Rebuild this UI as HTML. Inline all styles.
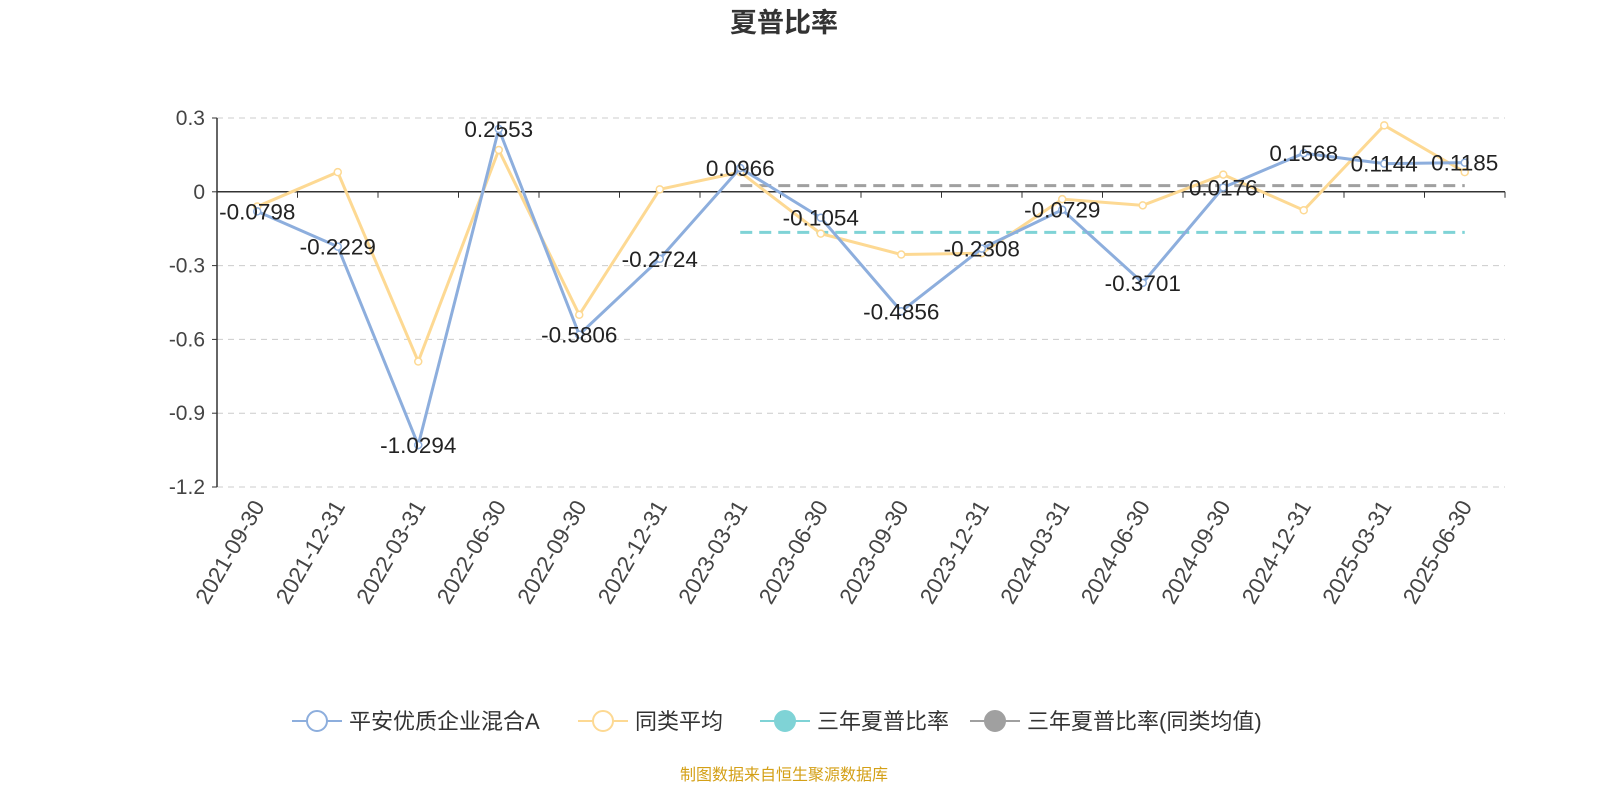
<!DOCTYPE html>
<html><head><meta charset="utf-8"><style>
body{margin:0;background:#fff;width:1600px;height:800px;overflow:hidden;font-family:"Liberation Sans","Noto Sans CJK SC",sans-serif}
</style></head><body>
<svg id="c" width="1600" height="800" font-family="Liberation Sans, Noto Sans CJK SC, sans-serif"></svg>
<script>
const categories=["2021-09-30","2021-12-31","2022-03-31","2022-06-30","2022-09-30","2022-12-31","2023-03-31","2023-06-30","2023-09-30","2023-12-31","2024-03-31","2024-06-30","2024-09-30","2024-12-31","2025-03-31","2025-06-30"];
const fundValues=[-0.0798,-0.2229,-1.0294,0.2553,-0.5806,-0.2724,0.0966,-0.1054,-0.4856,-0.2308,-0.0729,-0.3701,0.0176,0.1568,0.1144,0.1185];
const avgValues=[-0.06,0.08,-0.69,0.17,-0.50,0.01,0.08,-0.17,-0.255,-0.25,-0.03,-0.055,0.07,-0.075,0.27,0.08];
const threeYear=-0.165;
const threeYearAvg=0.025;
const threeYearStart=6;
const yTicks=[0.3,0,-0.3,-0.6,-0.9,-1.2];
const legendNames=["平安优质企业混合A","同类平均","三年夏普比率","三年夏普比率(同类均值)"];
const NS="http://www.w3.org/2000/svg";const svg=document.getElementById('c');
const L=217,R=1505,T=118,B=487;
const x=i=>L+(R-L)/categories.length*(i+0.5);
const y=v=>T+(0.3-v)/1.5*(B-T);
function el(t,a,txt){const e=document.createElementNS(NS,t);for(const k in a)e.setAttribute(k,a[k]);if(txt!=null)e.textContent=txt;svg.appendChild(e);return e;}
let e=el('text',{x:784,y:32,'text-anchor':'middle','font-size':27,'font-weight':'bold',fill:'#333'},'夏普比率');

yTicks.forEach(v=>{
 if(v!==0){const g=el('line',{x1:L,x2:R,y1:y(v),y2:y(v),stroke:'#ccc','stroke-dasharray':'6,5'});
 }
 const t=el('text',{x:L-12,y:y(v)+7,'text-anchor':'end','font-size':21,fill:'#444'},String(v));
 
 const k=el('line',{x1:L-5,x2:L,y1:y(v),y2:y(v),stroke:'#333'});
 
});
e=el('line',{x1:L,x2:L,y1:T,y2:B,stroke:'#333','stroke-width':1.5});
e=el('line',{x1:L,x2:R,y1:y(0),y2:y(0),stroke:'#333','stroke-width':1.5});
for(let i=0;i<=categories.length;i++){const k=el('line',{x1:L+(R-L)/categories.length*i,x2:L+(R-L)/categories.length*i,y1:y(0),y2:y(0)+6,stroke:'#333'});
 }
categories.forEach((c,i)=>{const t=el('text',{x:x(i)+8,y:506,'text-anchor':'end','font-size':22.5,fill:'#444',transform:`rotate(-60 ${x(i)+8} 506)`},c);
 });
e=el('line',{x1:x(threeYearStart),x2:x(categories.length-1),y1:y(threeYear),y2:y(threeYear),stroke:'#7fd3d6','stroke-width':3,'stroke-dasharray':'12,7'});

e=el('line',{x1:x(threeYearStart),x2:x(categories.length-1),y1:y(threeYearAvg),y2:y(threeYearAvg),stroke:'#a0a0a0','stroke-width':3,'stroke-dasharray':'12,7'});

function series(vals,color,name){
 const p=el('polyline',{points:vals.map((v,i)=>x(i)+','+y(v)).join(' '),fill:'none',stroke:color,'stroke-width':3});
 
 vals.forEach((v,i)=>{const c=el('circle',{cx:x(i),cy:y(v),r:3.5,fill:'#fff',stroke:color,'stroke-width':1.5});
 });
}
series(avgValues,'#fdd993','avg');
series(fundValues,'#8daedd','fund');
fundValues.forEach((v,i)=>{const t=el('text',{x:x(i),y:y(v)+8,'text-anchor':'middle','font-size':22.5,fill:'#222'},v.toFixed(4));
 });
const lx=[292,578,760,970],lc=['#8daedd','#fdd993','#7fd3d6','#a0a0a0'];
legendNames.forEach((n,i)=>{
 const g=document.createElementNS(NS,'g');svg.appendChild(g);
 
 const a=document.createElementNS(NS,'line');[['x1',lx[i]],['x2',lx[i]+50],['y1',721],['y2',721],['stroke',lc[i]],['stroke-width',2]].forEach(p=>a.setAttribute(p[0],p[1]));g.appendChild(a);
 const c=document.createElementNS(NS,'circle');[['cx',lx[i]+25],['cy',721],['r',10],['fill',i<2?'#fff':lc[i]],['stroke',lc[i]],['stroke-width',2]].forEach(p=>c.setAttribute(p[0],p[1]));g.appendChild(c);
 const t=document.createElementNS(NS,'text');[['x',lx[i]+57],['y',729],['font-size',22],['fill','#333']].forEach(p=>t.setAttribute(p[0],p[1]));t.textContent=n;g.appendChild(t);
});
e=el('text',{x:784,y:780,'text-anchor':'middle','font-size':16,fill:'#d4a017'},'制图数据来自恒生聚源数据库');

</script>
</body></html>
